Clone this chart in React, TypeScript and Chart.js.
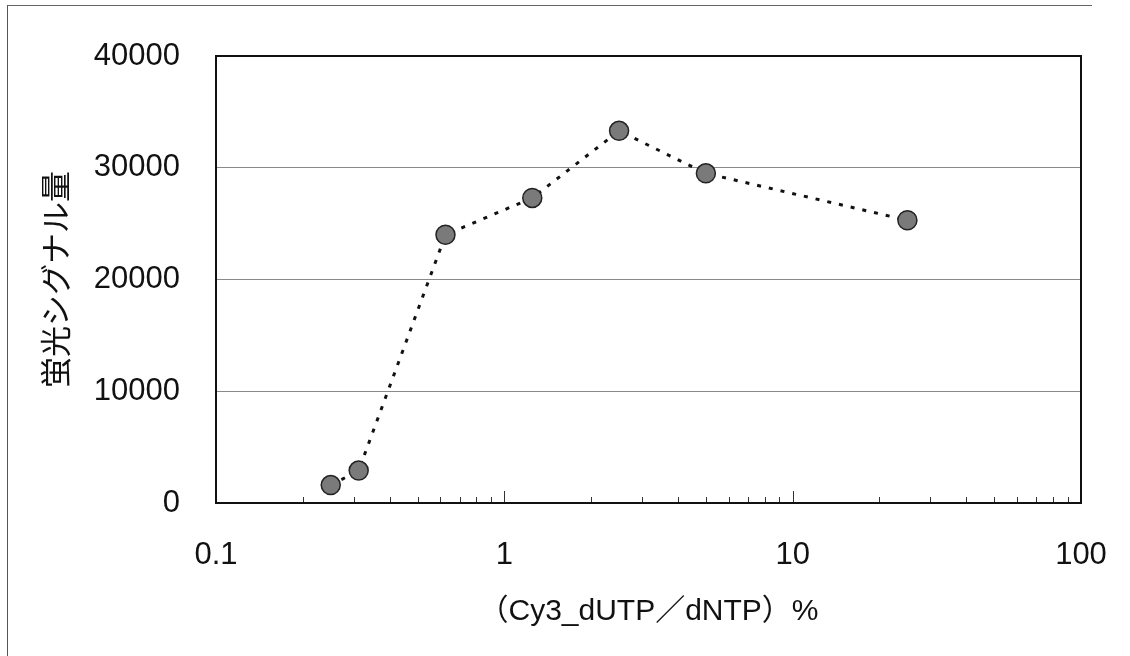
import React, { useEffect, useRef } from "react";
import { Chart, registerables } from "chart.js";

Chart.register(...registerables);

// ---- data ----
const X_VALUES = [0.25, 0.3125, 0.625, 1.25, 2.5, 5, 25];
const SIGNAL = [1600, 2900, 24000, 27300, 33300, 29500, 25300];
const X_TICKS = [0.1, 1, 10, 100];
const X_TICK_LABELS = ["0.1", "1", "10", "100"];
const X_MINOR_TICKS = [0.2, 0.3, 0.4, 0.5, 0.6, 0.7, 0.8, 0.9, 2, 3, 4, 5, 6, 7, 8, 9, 20, 30, 40, 50, 60, 70, 80, 90];
const Y_TICKS = [0, 10000, 20000, 30000, 40000];
const Y_TITLE = "蛍光シグナル量";
const X_TITLE = "（Cy3_dUTP／dNTP）%";

const FONT = "'Liberation Sans', Arial, 'Noto Sans CJK JP', sans-serif";

const framePlugin = {
  id: "frameAndMinorTicks",
  beforeDatasetsDraw(chart: any) {
    const { ctx, chartArea } = chart;
    const xs = chart.scales.x;
    ctx.save();
    ctx.strokeStyle = "#333";
    ctx.lineWidth = 1;
    ctx.beginPath();
    X_MINOR_TICKS.forEach((v) => {
      const px = Math.round(xs.getPixelForValue(v)) + 0.5;
      ctx.moveTo(px, chartArea.bottom);
      ctx.lineTo(px, chartArea.bottom - 6);
    });
    X_TICKS.forEach((v) => {
      const px = Math.round(xs.getPixelForValue(v)) + 0.5;
      ctx.moveTo(px, chartArea.bottom);
      ctx.lineTo(px, chartArea.bottom - 12);
    });
    ctx.stroke();
    ctx.strokeStyle = "#111";
    ctx.lineWidth = 2;
    ctx.strokeRect(
      chartArea.left,
      chartArea.top,
      chartArea.right - chartArea.left,
      chartArea.bottom - chartArea.top
    );
    ctx.restore();
  },
};

export default function App() {
  const canvasRef = useRef<HTMLCanvasElement | null>(null);

  useEffect(() => {
    if (!canvasRef.current) return;
    const chart = new Chart(canvasRef.current, {
      type: "line",
      data: {
        datasets: [
          {
            data: X_VALUES.map((x, i) => ({ x, y: SIGNAL[i] })),
            borderColor: "#111",
            borderWidth: 3,
            borderDash: [4, 8],
            tension: 0,
            fill: false,
            pointRadius: 9.5,
            pointHoverRadius: 9.5,
            pointBackgroundColor: "#7a7a7a",
            pointBorderColor: "#222",
            pointBorderWidth: 1.5,
          },
        ],
      },
      options: {
        responsive: false,
        animation: false,
        events: [],
        layout: { padding: { left: 0, top: 56, right: 49, bottom: 0 } },
        plugins: {
          legend: { display: false },
          tooltip: { enabled: false },
        },
        scales: {
          x: {
            type: "logarithmic",
            min: 0.1,
            max: 100,
            afterBuildTicks: (scale: any) => {
              scale.ticks = X_TICKS.map((v) => ({ value: v }));
            },
            afterFit: (scale: any) => {
              scale.height = 153;
              scale.paddingLeft = 0;
              scale.paddingRight = 0;
            },
            grid: { display: false, drawTicks: false },
            border: { display: true, color: "#111", width: 2 },
            ticks: {
              padding: 34,
              color: "#111",
              font: { family: FONT, size: 31 },
              maxRotation: 0,
              autoSkip: false,
              callback: (v: any) => {
                const i = X_TICKS.indexOf(Number(v));
                return i >= 0 ? X_TICK_LABELS[i] : "";
              },
            },
            title: {
              display: true,
              text: X_TITLE,
              color: "#111",
              font: { family: FONT, size: 30 },
              padding: { top: 0, bottom: 26 },
            },
          },
          y: {
            type: "linear",
            min: 0,
            max: 40000,
            afterBuildTicks: (scale: any) => {
              scale.ticks = Y_TICKS.map((v) => ({ value: v }));
            },
            afterFit: (scale: any) => {
              scale.width = 216;
              scale.paddingTop = 0;
              scale.paddingBottom = 0;
            },
            grid: { color: "#8a8a8a", lineWidth: 1, drawTicks: false },
            border: { display: true, color: "#111", width: 2 },
            ticks: {
              padding: 36,
              color: "#111",
              font: { family: FONT, size: 31 },
              callback: (v: any) => String(v),
            },
            title: {
              display: true,
              text: Y_TITLE,
              color: "#111",
              font: { family: "'Noto Sans CJK JP', sans-serif", size: 31 },
              padding: { top: 37, bottom: 0 },
            },
          },
        },
      },
      plugins: [framePlugin],
    } as any);
    return () => chart.destroy();
  }, []);

  return (
    <div style={{ position: "absolute", left: 0, top: 0, width: 1130, height: 656, background: "#fff" }}>
      <div
        style={{
          position: "absolute",
          left: 7,
          top: 5,
          width: 1085,
          height: 651,
          borderLeft: "1px solid #555",
          borderTop: "1px solid #666",
          boxSizing: "border-box",
        }}
      />
      <canvas ref={canvasRef} width={1130} height={656} style={{ position: "absolute", left: 0, top: 0 }} />
    </div>
  );
}
